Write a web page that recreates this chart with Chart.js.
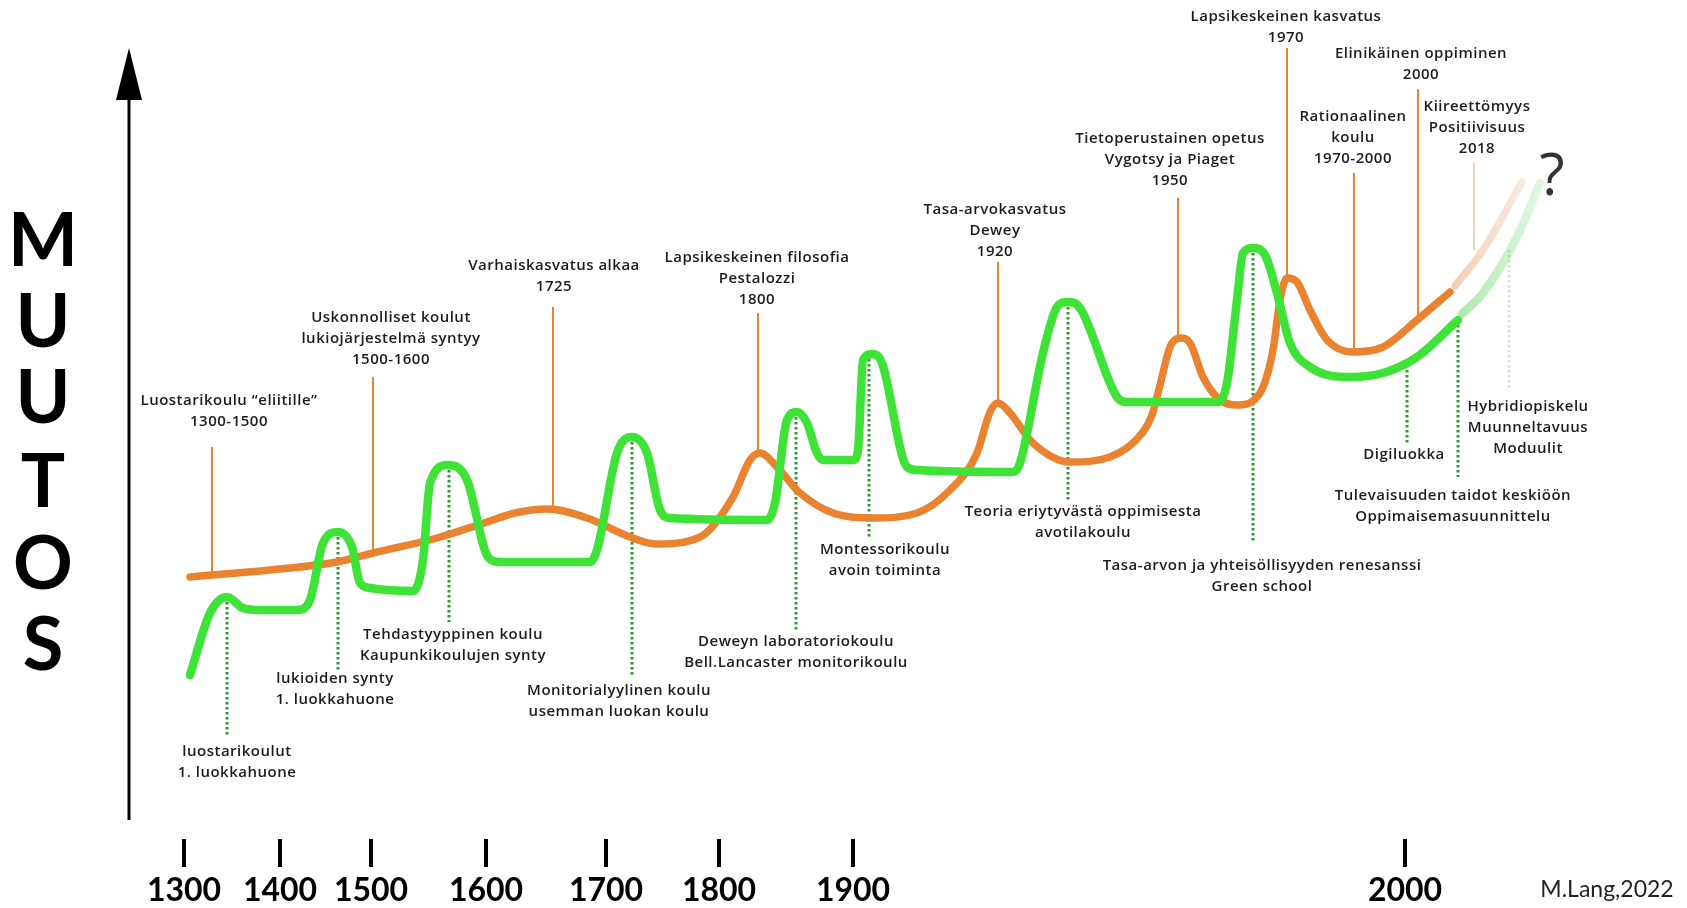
<!DOCTYPE html>
<html>
<head>
<meta charset="utf-8">
<title>Muutos</title>
<script src="https://cdn.jsdelivr.net/npm/chart.js@4.4.0/dist/chart.umd.min.js"></script>
<style>
  html, body { margin: 0; padding: 0; background: #fff; }
  #wrap { width: 1687px; height: 908px; position: relative; }
</style>
</head>
<body>
<div id="wrap"><canvas id="chart"></canvas></div>
<script>
// --- data: x = position along the timeline, y = level of change ---
const orangeX = [190, 212, 270, 337, 373, 437, 487, 515, 547, 587, 630, 655, 700, 733, 750, 760, 777, 800, 833, 873, 917, 950, 977, 990, 998, 1010, 1033, 1070, 1110, 1143, 1152, 1160, 1170, 1180, 1190, 1203, 1220, 1237, 1260, 1273, 1280, 1287, 1297, 1310, 1327, 1353, 1383, 1417, 1450];
const orangeY = [331, 333, 338, 346, 355, 370, 386, 395, 399, 390, 371, 364, 371, 411, 448, 455, 441, 415, 395, 390, 395, 418, 455, 496, 505, 495, 465, 446, 451, 476, 493, 523, 561, 570, 565, 531, 508, 503, 515, 558, 608, 630, 626, 598, 568, 556, 561, 588, 616];
const orangeFadeX = [1455, 1483, 1522];
const orangeFadeY = [622, 658, 726];

const greenX = [190, 210, 227, 243, 260, 297, 310, 323, 338, 352, 360, 370, 413, 423, 430, 448, 467, 488, 500, 590, 597, 617, 632, 647, 660, 670, 767, 775, 787, 797, 807, 817, 823, 853, 858, 863, 873, 882, 907, 917, 1013, 1020, 1043, 1057, 1068, 1080, 1117, 1127, 1217, 1227, 1237, 1243, 1253, 1265, 1277, 1290, 1310, 1350, 1383, 1417, 1458];
const greenY = [233, 295, 311, 300, 298, 298, 308, 365, 376, 361, 325, 320, 317, 348, 425, 443, 428, 351, 346, 346, 358, 455, 471, 455, 398, 390, 388, 405, 488, 496, 485, 455, 448, 448, 458, 548, 554, 545, 441, 438, 436, 445, 555, 601, 606, 600, 511, 506, 506, 525, 608, 655, 660, 653, 615, 565, 541, 531, 535, 551, 588];
const greenFadeX = [1462, 1483, 1517, 1540];
const greenFadeY = [594, 615, 671, 725];

// year ticks on the timeline
const yearLabels = ['1300', '1400', '1500', '1600', '1700', '1800', '1900', '2000'];
const yearPos = [184, 280, 371, 486, 606, 719, 853, 1405];

// orange notes (above the curve)
const topTexts = [
  ['Luostarikoulu “eliitille”', '1300-1500'],
  ['Uskonnolliset koulut', 'lukiojärjestelmä syntyy', '1500-1600'],
  ['Varhaiskasvatus alkaa', '1725'],
  ['Lapsikeskeinen filosofia', 'Pestalozzi', '1800'],
  ['Tasa-arvokasvatus', 'Dewey', '1920'],
  ['Tietoperustainen opetus', 'Vygotsy ja Piaget', '1950'],
  ['Lapsikeskeinen kasvatus', '1970'],
  ['Rationaalinen', 'koulu', '1970-2000'],
  ['Elinikäinen oppiminen', '2000'],
  ['Kiireettömyys', 'Positiivisuus', '2018']
];
const topLineX = [212, 373, 553, 758, 998, 1178, 1287, 1354, 1418, 1474];
const topLineTop = [461, 531, 601, 595, 646, 710, 860, 735, 819, 745];
const topLineEnd = [333, 355, 399, 455, 505, 570, 630, 556, 593, 658];
const topTextX = [229, 391, 554, 757, 995, 1170, 1286, 1353, 1421, 1477];
const topTextY = [507, 590, 642, 650, 698, 769, 891, 791, 854, 801];

// green notes (below the curve)
const bottomTexts = [
  ['luostarikoulut', '1. luokkahuone'],
  ['lukioiden synty', '1. luokkahuone'],
  ['Tehdastyyppinen koulu', 'Kaupunkikoulujen synty'],
  ['Monitorialyylinen koulu', 'usemman luokan koulu'],
  ['Deweyn laboratoriokoulu', 'Bell.Lancaster monitorikoulu'],
  ['Montessorikoulu', 'avoin toiminta'],
  ['Teoria eriytyvästä oppimisesta', 'avotilakoulu'],
  ['Tasa-arvon ja yhteisöllisyyden renesanssi', 'Green school'],
  ['Digiluokka'],
  ['Tulevaisuuden taidot keskiöön', 'Oppimaisemasuunnittelu'],
  ['Hybridiopiskelu', 'Muunneltavuus', 'Moduulit']
];
const bottomLineX = [227, 338, 449, 632, 796, 869, 1068, 1253, 1407, 1458, 1509];
const bottomLineTop = [311, 376, 443, 471, 496, 554, 606, 660, 548, 588, 658];
const bottomLineEnd = [173, 238, 286, 231, 276, 371, 408, 365, 465, 431, 518];
const bottomTextX = [237, 335, 453, 619, 796, 885, 1083, 1262, 1404, 1453, 1528];
const bottomTextY = [156, 229, 273, 217, 266, 358, 396, 342, 453, 412, 501];

const axisWord = ['M', 'U', 'U', 'T', 'O', 'S'];
const axisWordY = [666, 585, 509, 425, 343, 262];

const ORANGE = '#e9832f';
const GREEN = '#3fe337';
const TEXT = '#1c1c1c';

function pts(xs, ys) {
  return xs.map((x, i) => ({ x, y: ys[i] }));
}

function fadeGradient(chart, x0, x1, rgb, a0, a1) {
  const sx = chart.scales.x;
  if (!chart.chartArea || !sx) return `rgba(${rgb},${a0})`;
  const p0 = sx.getPixelForValue(x0), p1 = sx.getPixelForValue(x1);
  if (!isFinite(p0) || !isFinite(p1)) return `rgba(${rgb},${a0})`;
  const g = chart.ctx.createLinearGradient(p0, 0, p1, 0);
  g.addColorStop(0, `rgba(${rgb},${a0})`);
  g.addColorStop(1, `rgba(${rgb},${a1})`);
  return g;
}

// --- decorations: notes, ticks, axis arrow, labels ---
const decor = {
  id: 'decor',
  beforeDatasetsDraw(chart) {
    const { ctx } = chart;
    const sx = chart.scales.x, sy = chart.scales.y;
    ctx.save();
    // orange note lines
    ctx.lineWidth = 2;
    topLineX.forEach((x, i) => {
      ctx.strokeStyle = i === topLineX.length - 1 ? '#ead3c2' : ORANGE;
      const px = sx.getPixelForValue(x);
      ctx.beginPath();
      ctx.moveTo(px, sy.getPixelForValue(topLineTop[i]));
      ctx.lineTo(px, sy.getPixelForValue(topLineEnd[i]));
      ctx.stroke();
    });
    // green dotted lines
    ctx.lineWidth = 3;
    ctx.setLineDash([2.5, 2.5]);
    bottomLineX.forEach((x, i) => {
      ctx.strokeStyle = i === bottomLineX.length - 1 ? '#d5e6d5' : '#2e9a2e';
      const px = sx.getPixelForValue(x);
      ctx.beginPath();
      ctx.moveTo(px, sy.getPixelForValue(bottomLineTop[i]));
      ctx.lineTo(px, sy.getPixelForValue(bottomLineEnd[i]));
      ctx.stroke();
    });
    ctx.restore();
  },
  afterDraw(chart) {
    const { ctx } = chart;
    const sx = chart.scales.x, sy = chart.scales.y;
    ctx.save();
    ctx.textAlign = 'center';
    ctx.textBaseline = 'middle';
    ctx.fillStyle = TEXT;

    // note texts
    ctx.font = '600 15px "Open Sans", sans-serif';
    ctx.letterSpacing = '0.5px';
    const drawBlock = (lines, x, y) => {
      const px = sx.getPixelForValue(x);
      const py = sy.getPixelForValue(y);
      lines.forEach((t, k) => ctx.fillText(t, px, py + k * 21));
    };
    topTexts.forEach((lines, i) => drawBlock(lines, topTextX[i], topTextY[i]));
    bottomTexts.forEach((lines, i) => drawBlock(lines, bottomTextX[i], bottomTextY[i]));
    ctx.letterSpacing = '0px';

    // y axis arrow
    const ax = sx.getPixelForValue(129);
    ctx.strokeStyle = '#000';
    ctx.fillStyle = '#000';
    ctx.lineWidth = 3;
    ctx.beginPath();
    ctx.moveTo(ax, sy.getPixelForValue(88));
    ctx.lineTo(ax, sy.getPixelForValue(812));
    ctx.stroke();
    ctx.beginPath();
    ctx.moveTo(ax, sy.getPixelForValue(860));
    ctx.lineTo(ax - 13, sy.getPixelForValue(808));
    ctx.lineTo(ax + 13, sy.getPixelForValue(808));
    ctx.closePath();
    ctx.fill();

    // MUTOS
    ctx.font = 'bold 74px Lato, sans-serif';
    axisWord.forEach((ch, i) => ctx.fillText(ch, sx.getPixelForValue(43), sy.getPixelForValue(axisWordY[i])));

    // year ticks
    ctx.lineWidth = 4;
    ctx.font = 'bold 32px Lato, sans-serif';
    yearPos.forEach((x, i) => {
      const px = sx.getPixelForValue(x);
      ctx.beginPath();
      ctx.moveTo(px, sy.getPixelForValue(69));
      ctx.lineTo(px, sy.getPixelForValue(41));
      ctx.stroke();
      ctx.fillText(yearLabels[i], px, sy.getPixelForValue(17));
    });

    // signature and question mark
    ctx.fillStyle = '#222';
    ctx.font = '23px Lato, sans-serif';
    ctx.fillText('M.Lang,2022', sx.getPixelForValue(1607), sy.getPixelForValue(18));
    ctx.fillStyle = '#333';
    ctx.font = '58px "Open Sans", sans-serif';
    ctx.fillText('?', sx.getPixelForValue(1552), sy.getPixelForValue(730));
    ctx.restore();
  }
};

new Chart(document.getElementById('chart'), {
  type: 'line',
  data: {
    datasets: [
      {
        label: 'green',
        data: pts(greenX, greenY),
        borderColor: GREEN,
        borderWidth: 8.5,
        order: 0
      },
      {
        label: 'green-future',
        data: pts(greenFadeX, greenFadeY),
        borderColor: c => fadeGradient(c.chart, 1462, 1540, '60,200,60', 0.4, 0.15),
        borderWidth: 8.5,
        order: 1
      },
      {
        label: 'orange',
        data: pts(orangeX, orangeY),
        borderColor: ORANGE,
        borderWidth: 7.5,
        order: 2
      },
      {
        label: 'orange-future',
        data: pts(orangeFadeX, orangeFadeY),
        borderColor: c => fadeGradient(c.chart, 1455, 1522, '226,150,100', 0.45, 0.2),
        borderWidth: 7.5,
        order: 3
      }
    ]
  },
  options: {
    responsive: true,
    maintainAspectRatio: false,
    animation: false,
    layout: { padding: 0 },
    elements: {
      point: { radius: 0, hoverRadius: 0 },
      line: { cubicInterpolationMode: 'monotone', borderCapStyle: 'round', borderJoinStyle: 'round', fill: false }
    },
    scales: {
      x: { type: 'linear', min: 0, max: 1687, display: false },
      y: { type: 'linear', min: 0, max: 908, display: false }
    },
    plugins: { legend: { display: false }, tooltip: { enabled: false } },
    clip: false
  },
  plugins: [decor]
});
</script>
</body>
</html>
